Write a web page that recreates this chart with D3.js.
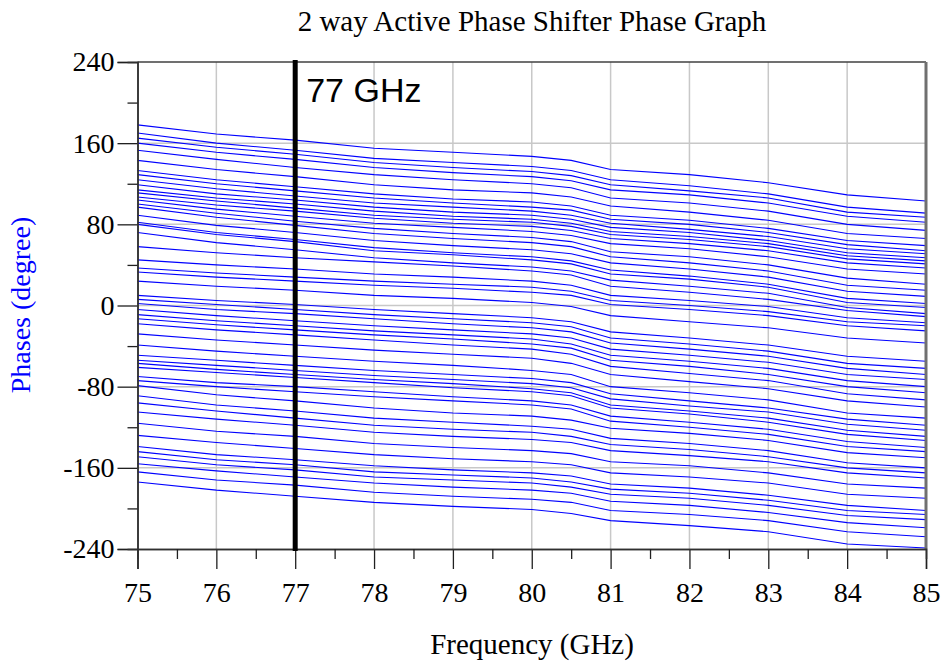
<!DOCTYPE html>
<html>
<head>
<meta charset="utf-8">
<script src="https://cdn.jsdelivr.net/npm/d3@7"></script>
<style>
  html, body { margin: 0; padding: 0; background: #fff; }
  svg { display: block; }
</style>
</head>
<body>
<svg id="chart" width="943" height="661"></svg>
<script>
// Sweep frequencies (GHz) at which each phase state was sampled
const freqGHz = [75, 76, 77, 78, 79, 80, 80.5, 81, 82, 83, 84, 85];

// Phase (degree) of every phase-shifter state across the sweep
const phaseCurves = [
  [178, 169, 163, 155, 151, 147, 143, 134, 129, 121, 109, 103],
  [170, 160, 153, 145, 141, 137, 133, 124, 118, 110, 97, 91],
  [165, 156, 149, 141, 136, 132, 128, 119, 113, 106, 92, 87],
  [160, 151, 144, 136, 131, 127, 123, 114, 109, 101, 88, 82],
  [153, 144, 136, 129, 124, 120, 116, 106, 101, 93, 80, 74],
  [143, 134, 127, 119, 114, 111, 107, 98, 92, 84, 71, 66],
  [133, 124, 117, 110, 105, 102, 98, 89, 84, 76, 64, 59],
  [129, 120, 113, 106, 101, 97, 94, 85, 80, 72, 60, 54],
  [124, 115, 108, 101, 97, 93, 89, 81, 75, 68, 56, 51],
  [119, 110, 104, 97, 92, 89, 85, 77, 72, 64, 52, 47],
  [114, 106, 100, 93, 88, 85, 81, 73, 68, 61, 49, 44],
  [111, 103, 96, 89, 85, 82, 78, 70, 65, 58, 46, 41],
  [107, 99, 93, 86, 81, 78, 74, 66, 61, 54, 42, 37],
  [104, 95, 88, 81, 77, 73, 69, 61, 56, 48, 36, 31],
  [100, 91, 83, 76, 71, 67, 63, 53, 48, 40, 27, 21],
  [97, 87, 79, 71, 66, 62, 58, 48, 42, 34, 20, 15],
  [89, 79, 72, 64, 59, 55, 51, 42, 36, 28, 14, 9],
  [82, 72, 65, 57, 52, 48, 44, 35, 29, 21, 7, 2],
  [80, 70, 63, 54, 50, 45, 41, 31, 26, 18, 3, -2],
  [72, 62, 55, 47, 42, 38, 34, 25, 19, 12, -2, -8],
  [58, 52, 47, 43, 39, 34, 30, 19, 13, 6, -5, -11],
  [45, 40, 36, 31, 28, 24, 20, 10, 5, -1, -12, -17],
  [37, 32, 28, 24, 21, 18, 14, 5, 0, -6, -16, -20],
  [33, 28, 24, 20, 17, 13, 10, 1, -4, -10, -20, -25],
  [24, 19, 15, 10, 7, 3, -1, -10, -16, -22, -32, -37],
  [10, 5, 1, -4, -8, -12, -16, -26, -32, -39, -50, -55],
  [6, 1, -4, -9, -13, -17, -21, -32, -38, -45, -57, -62],
  [2, -4, -8, -13, -18, -22, -26, -37, -43, -50, -62, -68],
  [-4, -10, -15, -20, -24, -28, -32, -43, -49, -56, -68, -73],
  [-9, -15, -20, -25, -29, -33, -38, -49, -55, -62, -74, -80],
  [-13, -19, -24, -29, -33, -38, -42, -54, -60, -68, -80, -86],
  [-18, -24, -29, -34, -39, -43, -48, -60, -67, -74, -87, -93],
  [-28, -34, -39, -44, -48, -52, -57, -68, -75, -82, -94, -100],
  [-39, -45, -50, -55, -59, -64, -68, -80, -86, -93, -106, -111],
  [-49, -54, -59, -64, -68, -72, -76, -87, -94, -101, -112, -118],
  [-54, -59, -64, -69, -73, -77, -81, -92, -99, -105, -117, -123],
  [-57, -63, -68, -73, -77, -82, -86, -98, -104, -111, -123, -129],
  [-61, -66, -71, -76, -81, -85, -89, -101, -107, -115, -127, -133],
  [-70, -76, -80, -85, -90, -94, -98, -109, -115, -122, -134, -140],
  [-74, -80, -85, -90, -94, -98, -102, -114, -120, -127, -139, -144],
  [-79, -88, -94, -101, -106, -109, -113, -121, -126, -133, -145, -150],
  [-89, -98, -104, -111, -115, -119, -122, -131, -136, -143, -155, -160],
  [-96, -104, -111, -118, -122, -125, -129, -137, -142, -149, -160, -165],
  [-105, -112, -118, -125, -129, -132, -135, -143, -148, -154, -165, -170],
  [-116, -124, -129, -136, -140, -143, -146, -154, -158, -165, -176, -180],
  [-128, -135, -141, -147, -151, -154, -157, -165, -169, -175, -186, -190],
  [-139, -147, -152, -158, -162, -165, -168, -176, -180, -187, -197, -202],
  [-144, -152, -157, -164, -167, -170, -174, -181, -185, -192, -202, -206],
  [-149, -157, -162, -169, -172, -175, -179, -186, -190, -197, -207, -211],
  [-156, -163, -169, -175, -179, -182, -185, -193, -197, -204, -214, -219],
  [-164, -172, -177, -184, -188, -191, -194, -202, -206, -212, -223, -228],
  [-174, -182, -188, -194, -198, -201, -205, -212, -217, -223, -235, -239]
];

// Axis ticks
const xMajorTicks = [75, 76, 77, 78, 79, 80, 81, 82, 83, 84, 85];
const xMinorTicks = [75.5, 76.5, 77.5, 78.5, 79.5, 80.5, 81.5, 82.5, 83.5, 84.5];
const yMajorTicks = [-240, -160, -80, 0, 80, 160, 240];
const yMinorTicks = [-200, -120, -40, 40, 120, 200];

// Vertical marker
const markerFreq = 77;
const markerLabel = "77 GHz";

const titleText = "2 way Active Phase Shifter Phase Graph";
const xTitle = "Frequency (GHz)";
const yTitle = "Phases (degree)";

const serif = "'Liberation Serif', 'Times New Roman', serif";
const sans = "'Liberation Sans', Arial, sans-serif";

const svg = d3.select("#chart");
const plot = { left: 137.5, right: 926, top: 62, bottom: 549 };

const x = d3.scaleLinear().domain([75, 85]).range([plot.left, plot.right]);
const y = d3.scaleLinear().domain([-240, 240]).range([plot.bottom, plot.top]);

// Grid
const grid = svg.append("g");
grid.selectAll("line.gx").data(xMajorTicks.slice(1, -1)).join("line")
  .attr("x1", d => x(d)).attr("x2", d => x(d))
  .attr("y1", plot.top).attr("y2", plot.bottom)
  .attr("stroke", "#c8c8c8").attr("stroke-width", 1.5);
grid.selectAll("line.gy").data(yMajorTicks.slice(1, -1)).join("line")
  .attr("x1", plot.left).attr("x2", plot.right)
  .attr("y1", d => y(d)).attr("y2", d => y(d))
  .attr("stroke", "#c8c8c8").attr("stroke-width", 1.5);

// Phase curves
const line = d3.line().x((d, i) => x(freqGHz[i])).y(d => y(d));
svg.append("g").selectAll("path").data(phaseCurves).join("path")
  .attr("d", line)
  .attr("fill", "none")
  .attr("stroke", "#0000ff")
  .attr("stroke-width", 1.1);

// Frame
svg.append("line").attr("x1", plot.left).attr("x2", plot.right)
  .attr("y1", plot.top).attr("y2", plot.top).attr("stroke", "#404040").attr("stroke-width", 1.5);
svg.append("line").attr("x1", plot.right).attr("x2", plot.right)
  .attr("y1", plot.top).attr("y2", plot.bottom).attr("stroke", "#707070").attr("stroke-width", 3);

// Axes
const fontSize = 28;
const plain = d => String(d);
svg.append("g").attr("transform", `translate(${plot.left},0)`)
  .call(d3.axisLeft(y).tickValues(yMajorTicks).tickSize(20).tickPadding(3).tickFormat(plain));
svg.append("g").attr("transform", `translate(${plot.left},0)`)
  .call(d3.axisLeft(y).tickValues(yMinorTicks).tickSize(10).tickFormat(""));
svg.append("g").attr("transform", `translate(0,${plot.bottom})`)
  .call(d3.axisBottom(x).tickValues(xMajorTicks).tickSize(20).tickPadding(13).tickFormat(plain));
svg.append("g").attr("transform", `translate(0,${plot.bottom})`)
  .call(d3.axisBottom(x).tickValues(xMinorTicks).tickSize(10).tickFormat(""));

svg.selectAll(".domain").attr("stroke", "#303030").attr("stroke-width", 1.5);
svg.selectAll(".tick line").attr("stroke", "#202020").attr("stroke-width", 1.3);
svg.selectAll(".tick text")
  .style("font-family", serif)
  .style("font-size", fontSize + "px").attr("fill", "#000");

// Marker line at 77 GHz
svg.append("line")
  .attr("x1", x(markerFreq)).attr("x2", x(markerFreq))
  .attr("y1", plot.top - 2).attr("y2", plot.bottom + 2)
  .attr("stroke", "#000").attr("stroke-width", 5);
svg.append("text")
  .attr("x", x(markerFreq) + 11).attr("y", 102)
  .style("font-family", sans)
  .style("font-size", "34px").attr("fill", "#000")
  .text(markerLabel);

// Titles
svg.append("text")
  .attr("x", 532).attr("y", 31).attr("text-anchor", "middle")
  .style("font-family", serif).style("font-size", "29px")
  .attr("fill", "#000").text(titleText);
svg.append("text")
  .attr("x", 532).attr("y", 654).attr("text-anchor", "middle")
  .style("font-family", serif).style("font-size", "29px")
  .attr("fill", "#000").text(xTitle);
svg.append("text")
  .attr("transform", "translate(30,305) rotate(-90)")
  .attr("text-anchor", "middle")
  .style("font-family", serif).style("font-size", "28px")
  .attr("fill", "#0000ff").text(yTitle);
</script>
</body>
</html>
